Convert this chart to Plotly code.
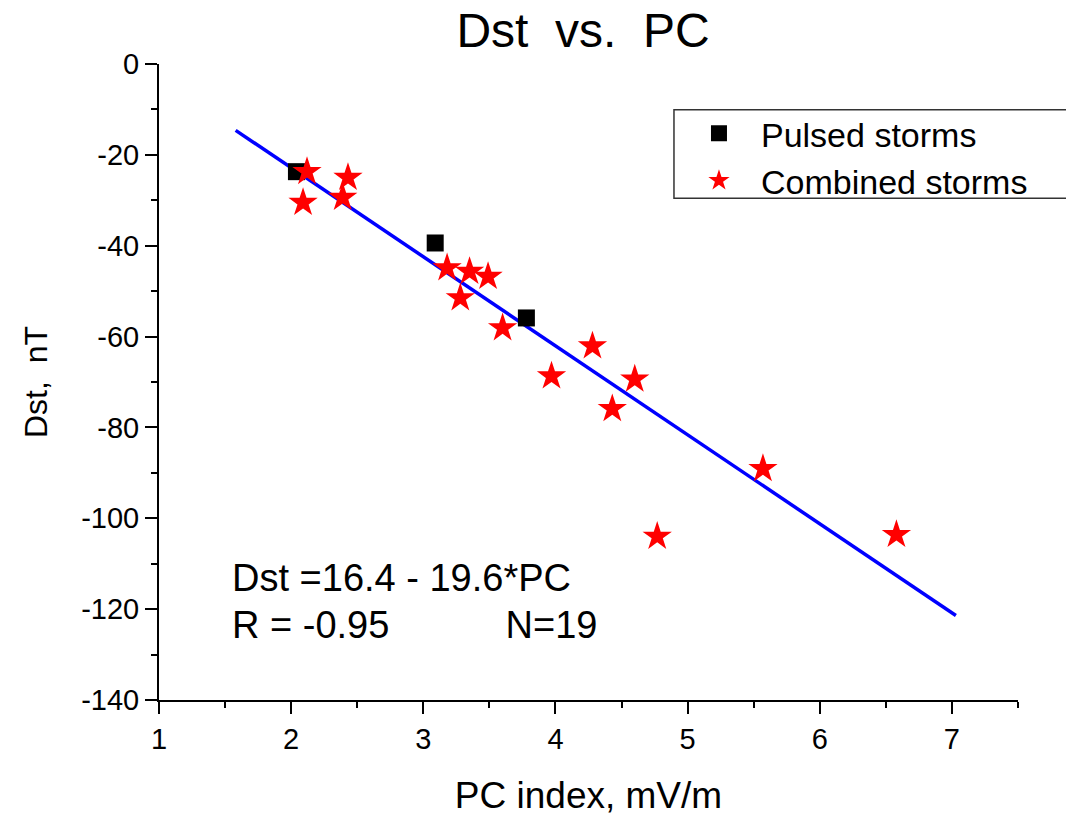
import plotly.graph_objects as go

# Pulsed storms (black squares)
pulsed_pc = [2.04, 3.09, 3.78]
pulsed_dst = [-23.7, -39.4, -55.9]

# Combined storms (red stars)
combined_pc = [2.12, 2.43, 2.09, 2.39, 3.18, 3.35, 3.49, 3.28, 3.60,
               4.28, 3.97, 4.60, 4.43, 5.57, 4.77, 6.58]
combined_dst = [-23.7, -25.0, -30.5, -29.4, -44.9, -45.7, -46.8, -51.5, -58.1,
                -62.1, -68.7, -69.4, -75.9, -89.1, -104.0, -103.6]

# Regression line endpoints: Dst = 16.4 - 19.6*PC
fit_pc = [1.58, 7.03]
fit_dst = [-14.6, -121.4]

x_ticks = [1, 2, 3, 4, 5, 6, 7]
y_ticks = [0, -20, -40, -60, -80, -100, -120, -140]

FONT = "Liberation Sans, Arial, sans-serif"

fig = go.Figure()
fig.add_trace(go.Scatter(
    x=fit_pc, y=fit_dst, mode="lines",
    line=dict(color="#0000ff", width=3.5),
    showlegend=False, hoverinfo="skip"))
fig.add_trace(go.Scatter(
    x=pulsed_pc, y=pulsed_dst, mode="markers", name="Pulsed storms",
    legendgroup="a",
    marker=dict(symbol="square", size=17, color="black",
                line=dict(width=0))))
fig.add_trace(go.Scatter(
    x=combined_pc, y=combined_dst, mode="markers", name="Combined storms",
    legendgroup="b",
    marker=dict(symbol="star", size=22, color="#ff0000",
                line=dict(width=0))))

axis_common = dict(
    showgrid=False, zeroline=False, showline=True, linecolor="black",
    linewidth=2, ticks="outside", ticklen=12, tickwidth=2, tickcolor="black",
    tickfont=dict(family=FONT, size=29, color="black"),
    minor=dict(ticks="outside", ticklen=6, tickwidth=2, tickcolor="black"),
)

fig.update_xaxes(
    range=[1, 7.5], tickvals=x_ticks, ticktext=[str(v) for v in x_ticks],
    minor_dtick=0.5,
    title=dict(text="PC index, mV/m", font=dict(family=FONT, size=37, color="black"),
               standoff=28),
    **axis_common)
fig.update_yaxes(
    range=[-140, 0], tickvals=y_ticks, ticktext=[str(v) for v in y_ticks],
    minor_dtick=10,
    title=dict(text="Dst,&nbsp;&nbsp;nT", font=dict(family=FONT, size=32, color="black"),
               standoff=24),
    **axis_common)

fig.add_annotation(
    x=0.083, y=0.192, xref="paper", yref="paper", xanchor="left", yanchor="middle",
    text="Dst =16.4 - 19.6*PC", showarrow=False,
    font=dict(family=FONT, size=38, color="black"))
fig.add_annotation(
    x=0.083, y=0.118, xref="paper", yref="paper", xanchor="left", yanchor="middle",
    text="R = -0.95" + "&nbsp;" * 11 + "N=19", showarrow=False,
    font=dict(family=FONT, size=38, color="black"))

# legend frame (runs past the right edge of the figure, as in the original)
fig.add_shape(type="rect", xref="paper", yref="paper",
              x0=0.5995, x1=1.2, y0=0.789, y1=0.928,
              line=dict(color="#333333", width=1.5), fillcolor="white",
              layer="below")

fig.update_layout(
    width=1066, height=821,
    margin=dict(l=159, r=48, t=64, b=118),
    paper_bgcolor="white", plot_bgcolor="white",
    title=dict(text="Dst&nbsp;&nbsp;vs.&nbsp;&nbsp;PC", x=0.547, xanchor="center",
               y=0.963, yanchor="middle",
               font=dict(family=FONT, size=48, color="black")),
    legend=dict(x=0.603, y=0.936, xanchor="left", yanchor="top",
                bgcolor="rgba(0,0,0,0)", borderwidth=0,
                itemwidth=74, tracegroupgap=0,
                font=dict(family=FONT, size=34, color="black")),
    showlegend=True,
)

fig.write_html("out.html", config={"displayModeBar": False})

# remove default body margin so the figure sits at the page origin
with open("out.html", "r", encoding="utf-8") as f:
    html = f.read()
html = html.replace("<head>", "<head><style>body{margin:0;padding:0;overflow:hidden;}</style>", 1)
with open("out.html", "w", encoding="utf-8") as f:
    f.write(html)
